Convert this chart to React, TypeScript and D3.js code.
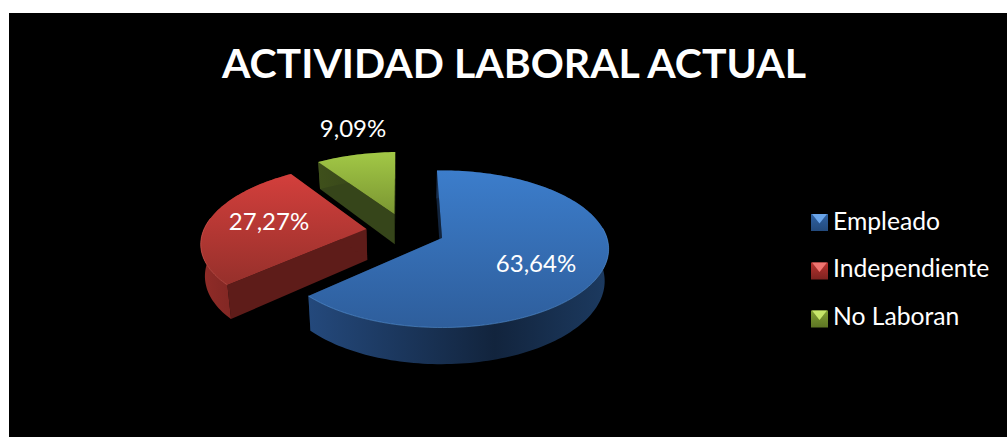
import React from "react";
import * as d3 from "d3";

const titleText = "ACTIVIDAD LABORAL ACTUAL";
const categories = ["Empleado", "Independiente", "No Laboran"];
const values = [63.64, 27.27, 9.09];
const valueLabels = ["63,64%", "27,27%", "9,09%"];
const topColors = [["#3c7dcb", "#2e5e9c"], ["#d33f3c", "#96302b"], ["#a2c846", "#7b9632"]];
const wallColors = [["#24497c", "#12243d", "#1c3a60"], ["#912c28", "#5e1c19", "#5a1b18"], ["#3f501b", "#36451a", "#333f17"]];
const rimColors = ["#5b9ae0", "#e0605a", "#b5d860"];
const legendTop = [["#2f62a3", "#6aa5ea", "#234a7c"], ["#b9322f", "#f07470", "#7d2320"], ["#80a033", "#c6e66a", "#5d7524"]];
const labelPos: [number, number][] = [[536, 272], [269, 230], [353, 137]];
const legendY = [222.5, 271, 319];
const legendBaseline = [230, 277, 325];

const W = 1007, H = 437;
const originX = 442, originY = 238, rx = 165, ry = 77, persp = 0.14, depth = 31.5, shrink = 0.98, shrinkX = 410;
const explode = 0.243, firstAngle = (-2 * Math.PI) / 180;

const arcs = d3.pie<number>().sort(null).startAngle(firstAngle).endAngle(firstAngle + 2 * Math.PI)(values);
const sx = d3.scaleLinear().domain([0, 1]).range([0, rx]);
const sy = d3.scaleLinear().domain([0, 1]).range([0, ry]);
const dir = (t: number): [number, number] => [Math.sin(t), -Math.cos(t)];
const mid = (a: any) => (a.startAngle + a.endAngle) / 2;
const base = dir(mid(arcs[0])).map((d) => d * explode);

type P = [number, number];
function top(u: number, v: number): P {
  const s = 1 / (1 - persp * v);
  return [originX + sx(u) * s, originY + sy(v) * s];
}
function bottom(u: number, v: number): P {
  const s = 1 / (1 - persp * v);
  const [x, y] = top(u, v);
  return [shrinkX + (x - shrinkX) * shrink, y + depth * s];
}
const line = d3.line<P>();

function geom(a: any) {
  const m = dir(mid(a));
  const ax = m[0] * explode - base[0], ay = m[1] * explode - base[1];
  const n = Math.max(12, Math.round((a.endAngle - a.startAngle) * 40));
  const ang = d3.range(n + 1).map((i) => a.startAngle + ((a.endAngle - a.startAngle) * i) / n);
  const rim = ang.map((t) => { const d = dir(t); return [ax + d[0], ay + d[1]] as P; });
  return { ax, ay, rim };
}

export default function App() {
  const order = [2, 1, 0];
  return (
    <svg width={W} height={H} style={{ position: "absolute", left: 0, top: 0, display: "block", background: "#fff" }} fontFamily="Lato, Carlito, sans-serif">
      <defs>
        {arcs.map((a, i) => {
          const g = geom(a);
          const ys = g.rim.map((p) => top(p[0], p[1])[1]);
          const xs = g.rim.map((p) => top(p[0], p[1])[0]);
          const apex = top(g.ax, g.ay);
          const y0 = Math.min(...ys, apex[1]), y1 = Math.max(...ys, apex[1]);
          const x0 = Math.min(...xs, apex[0]), x1 = Math.max(...xs, apex[0]);
          return (
            <React.Fragment key={i}>
              <linearGradient id={`top${i}`} gradientUnits="userSpaceOnUse" x1={0} x2={0} y1={y0} y2={y1}>
                <stop offset="0" stopColor={topColors[i][0]} />
                <stop offset="1" stopColor={topColors[i][1]} />
              </linearGradient>
              <linearGradient id={`wall${i}`} gradientUnits="userSpaceOnUse" x1={x0} x2={x1} y1={0} y2={0}>
                <stop offset="0" stopColor={wallColors[i][0]} />
                <stop offset="0.62" stopColor={wallColors[i][1]} />
                <stop offset="1" stopColor={wallColors[i][2]} />
              </linearGradient>
              <linearGradient id={`leg${i}`} x1="0" x2="0" y1="0" y2="1">
                <stop offset="0" stopColor={legendTop[i][0]} />
                <stop offset="1" stopColor={legendTop[i][2]} />
              </linearGradient>
            </React.Fragment>
          );
        })}
      </defs>
      <rect x={9} y={13} width={W - 9} height={H - 13} fill="#000" />
      <text x={514} y={78} textAnchor="middle" fill="#fff" fontSize={41} fontWeight={700}>{titleText}</text>

      {order.map((i) => {
        const g = geom(arcs[i]);
        const first = g.rim[0], last = g.rim[g.rim.length - 1];
        const quad = (p: P): P[] => [top(g.ax, g.ay), top(p[0], p[1]), bottom(p[0], p[1]), bottom(g.ax, g.ay)];
        const outer: P[] = [
          ...g.rim.map((p) => top(p[0], p[1])),
          ...g.rim.slice().reverse().map((p) => bottom(p[0], p[1])),
        ];
        const frontRim = g.rim.filter((p) => p[1] > -0.15 + g.ay).map((p) => top(p[0], p[1]));
        const topFace: P[] = [top(g.ax, g.ay), ...g.rim.map((p) => top(p[0], p[1]))];
        return (
          <g key={i}>
            <path d={line(quad(first))! + "Z"} fill={wallColors[i][1]} />
            <path d={line(quad(last))! + "Z"} fill={wallColors[i][1]} />
            <path d={line(outer)! + "Z"} fill={`url(#wall${i})`} />
            <path d={line(topFace)! + "Z"} fill={`url(#top${i})`} />
            <path d={line(frontRim)!} fill="none" stroke={rimColors[i]} strokeOpacity={0.55} strokeWidth={1} />
          </g>
        );
      })}

      {valueLabels.map((t, i) => (
        <text key={t} x={labelPos[i][0]} y={labelPos[i][1]} textAnchor="middle" fill="#fff" fontSize={24}>{t}</text>
      ))}

      {categories.map((c, i) => {
        const y = legendY[i], x = 811, s = 17;
        const tri: P[] = [[x + 1, y - s / 2], [x + s - 1, y - s / 2], [x + s / 2, y + 1]];
        return (
          <g key={c}>
            <rect x={x} y={y - s / 2} width={s} height={s} fill={`url(#leg${i})`} />
            <path d={line(tri)! + "Z"} fill={legendTop[i][1]} />
            <text x={833} y={legendBaseline[i]} fill="#fff" fontSize={24.7}>{c}</text>
          </g>
        );
      })}
    </svg>
  );
}
